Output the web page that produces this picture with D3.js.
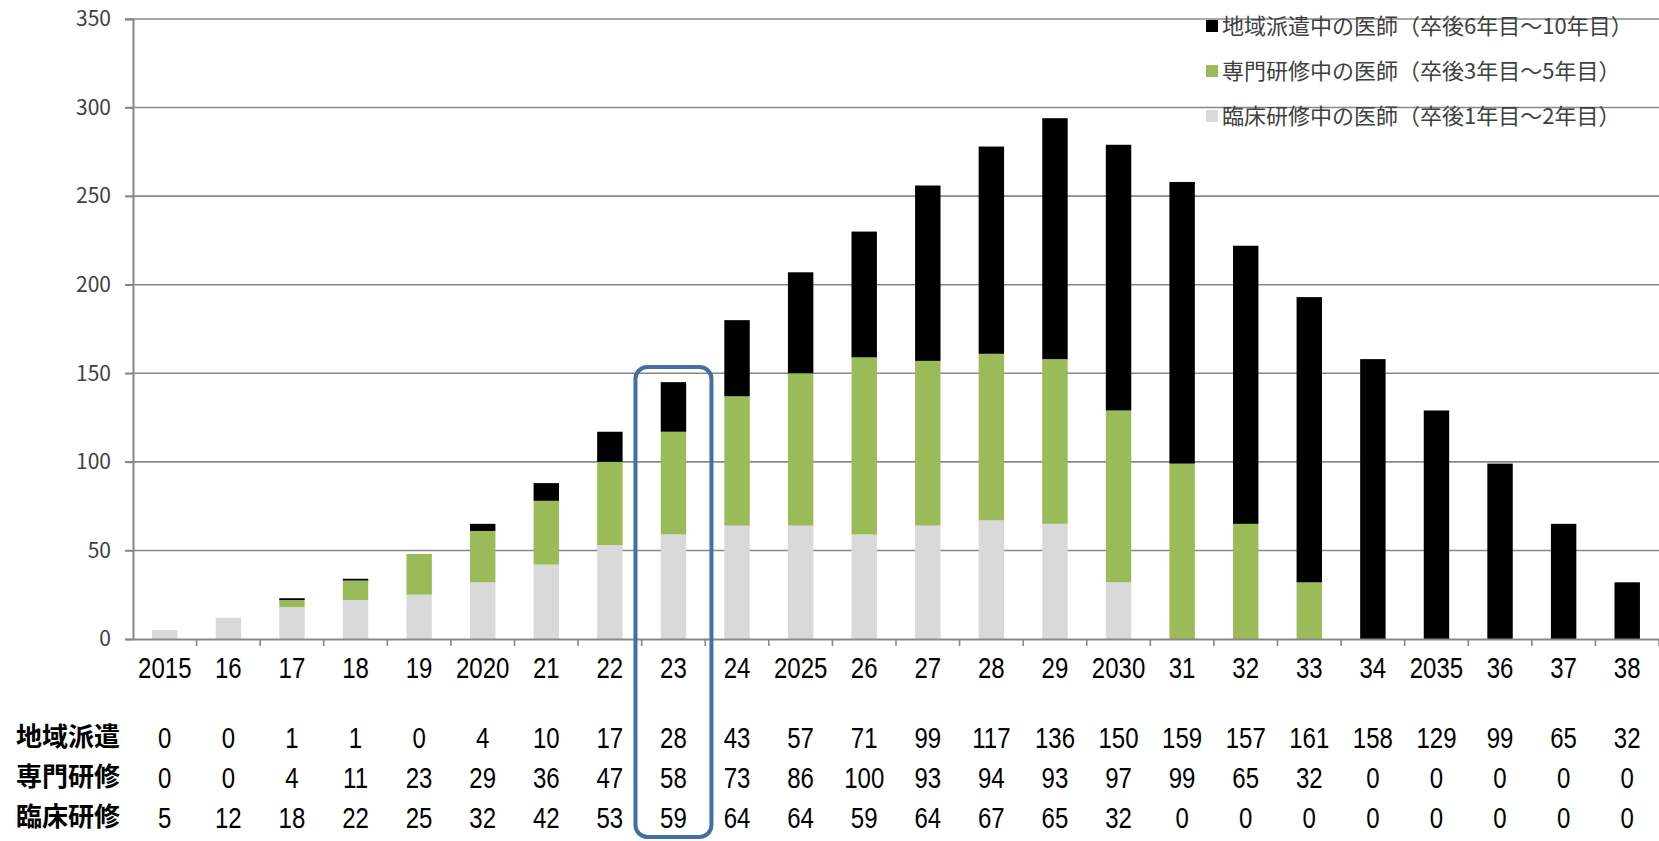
<!DOCTYPE html>
<html lang="ja">
  <head>
    <meta charset="utf-8">
    <title>医師数の推移</title>
    <script src="https://d3js.org/d3.v7.js"></script>
    <style>
      body { margin: 0; background: #fff; }
      .num { font-family: "Liberation Sans", Arial, sans-serif; }
      .jp { font-family: "Noto Sans CJK JP", sans-serif; }
    </style>
  </head>
  <body>
    <script type="text/javascript">

      var w = 1659;
      var h = 841;

      // data
      var years = ["2015","16","17","18","19","2020","21","22","23","24","2025","26",
                   "27","28","29","2030","31","32","33","34","2035","36","37","38"];
      var chiiki = [0,0,1,1,0,4,10,17,28,43,57,71,99,117,136,150,159,157,161,158,129,99,65,32];
      var senmon = [0,0,4,11,23,29,36,47,58,73,86,100,93,94,93,97,99,65,32,0,0,0,0,0];
      var rinsho = [5,12,18,22,25,32,42,53,59,64,64,59,64,67,65,32,0,0,0,0,0,0,0,0];
      var yTicks = [0,50,100,150,200,250,300,350];
      var seriesKeys = ["rinsho","senmon","chiiki"];
      var seriesNames = ["地域派遣中の医師（卒後6年目～10年目）",
                         "専門研修中の医師（卒後3年目～5年目）",
                         "臨床研修中の医師（卒後1年目～2年目）"];
      var rowNames = ["地域派遣","専門研修","臨床研修"];
      var highlight = "23";

      var colors = {chiiki: "#000000", senmon: "#9bbb59", rinsho: "#d9d9d9"};

      var table = years.map((y, i) => ({year: y, chiiki: chiiki[i], senmon: senmon[i], rinsho: rinsho[i]}));
      var stack = d3.stack().keys(seriesKeys)(table);

      var plot = {left: 133, right: 1659, top: 19, bottom: 639};
      var squeeze = "scale(0.8,1)";

      var xScale = d3.scaleBand()
        .domain(years)
        .range([plot.left, plot.right])
        .paddingInner(0.6)
        .paddingOuter(0.3);

      var xBand = d3.scaleBand()
        .domain(years)
        .range([plot.left, plot.right]);

      var yScale = d3.scaleLinear()
        .domain([0, 350])
        .range([plot.bottom, plot.top]);

      var svg = d3.select("body")
        .append("svg")
          .attr("width", w)
          .attr("height", h);

      // grid lines
      svg.append("g")
        .selectAll("line")
        .data(yTicks.filter(d => d > 0)).enter().append("line")
          .attr("x1", plot.left - 8)
          .attr("x2", w)
          .attr("y1", d => yScale(d))
          .attr("y2", d => yScale(d))
          .attr("stroke", "#888")
          .attr("stroke-width", 1.6);

      // y axis
      var yAxis = d3.axisLeft(yScale).tickValues(yTicks).tickSize(8).tickPadding(14);
      var gy = svg.append("g")
        .attr("transform", `translate(${plot.left},0)`)
        .call(yAxis);
      gy.select(".domain").attr("stroke", "#888").attr("stroke-width", 2);
      gy.selectAll(".tick line").attr("stroke", "#888").attr("stroke-width", 1.6);
      gy.selectAll(".tick text")
        .attr("class", "jp")
        .attr("font-size", 21)
        .attr("fill", "#404040");

      // bars
      svg.append("g")
        .selectAll("g")
        .data(stack).enter().append("g")
          .attr("fill", d => colors[d.key])
        .selectAll("rect")
        .data(d => d).enter().append("rect")
          .attr("x", d => xScale(d.data.year))
          .attr("width", xScale.bandwidth())
          .attr("y", d => yScale(d[1]))
          .attr("height", d => yScale(d[0]) - yScale(d[1]));

      // x axis
      var xAxis = d3.axisBottom(xBand).tickSize(0).tickPadding(18);
      var gx = svg.append("g")
        .attr("transform", `translate(0,${plot.bottom})`)
        .call(xAxis);
      gx.select(".domain").attr("stroke", "#888").attr("stroke-width", 2);
      gx.selectAll(".tick text")
        .attr("class", "num")
        .attr("font-size", 30)
        .attr("fill", "#000")
        .attr("transform", squeeze);
      gx.selectAll(".sep")
        .data(years).enter().append("line")
          .attr("x1", d => xBand(d) + xBand.bandwidth())
          .attr("x2", d => xBand(d) + xBand.bandwidth())
          .attr("y1", 0)
          .attr("y2", 7)
          .attr("stroke", "#888")
          .attr("stroke-width", 1.6);

      // data table under the axis
      var rowY = [737, 777, 817];
      var rowVals = [chiiki, senmon, rinsho];
      rowNames.forEach(function(name, r) {
        svg.append("text")
          .attr("class", "jp")
          .attr("x", 16)
          .attr("y", rowY[r])
          .attr("dy", "0.35em")
          .attr("font-size", 26)
          .attr("font-weight", "bold")
          .text(name);
        svg.append("g")
          .selectAll("g")
          .data(rowVals[r]).enter().append("g")
            .attr("transform", (d, i) => `translate(${xBand(years[i]) + xBand.bandwidth() / 2},${rowY[r]})`)
          .append("text")
            .attr("class", "num")
            .attr("dy", "0.36em")
            .attr("text-anchor", "middle")
            .attr("font-size", 30)
            .attr("transform", squeeze)
            .text(d => d);
      });

      // highlight box
      var hx = xBand(highlight) + xBand.bandwidth() / 2;
      svg.append("rect")
        .attr("x", hx - 38)
        .attr("y", 367)
        .attr("width", 76)
        .attr("height", 470)
        .attr("rx", 12)
        .attr("fill", "none")
        .attr("stroke", "#41719c")
        .attr("stroke-width", 4);

      // legend
      var legendKeys = ["chiiki","senmon","rinsho"];
      var legend = svg.append("g")
        .attr("transform", "translate(1206,26)");
      var li = legend.selectAll("g")
        .data(legendKeys).enter().append("g")
          .attr("transform", (d, i) => `translate(0,${i * 45})`);
      li.append("rect")
        .attr("x", 0)
        .attr("y", -6)
        .attr("width", 12)
        .attr("height", 12)
        .attr("fill", d => colors[d]);
      li.append("text")
        .attr("class", "jp")
        .attr("x", 16)
        .attr("dy", "0.36em")
        .attr("font-size", 22)
        .attr("fill", "#404040")
        .text((d, i) => seriesNames[i]);

    </script>
  </body>
</html>
